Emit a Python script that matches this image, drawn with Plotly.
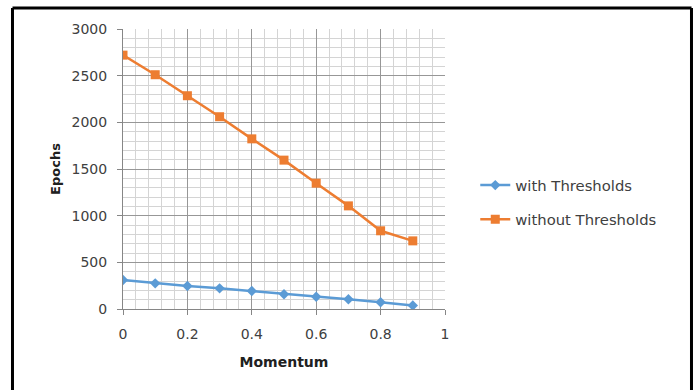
import plotly.graph_objects as go

momentum = [0, 0.1, 0.2, 0.3, 0.4, 0.5, 0.6, 0.7, 0.8, 0.9]
with_thresholds = [310, 275, 247, 221, 193, 158, 132, 104, 72, 37]
without_thresholds = [2720, 2510, 2285, 2060, 1823, 1595, 1348, 1105, 838, 730]

FONT = "DejaVu Sans"
TICK_COLOR = "#404040"

fig = go.Figure()
fig.add_trace(go.Scatter(
    x=momentum, y=with_thresholds, name="with Thresholds",
    mode="lines+markers", legendgroup="a",
    line=dict(color="#5B9BD5", width=2.5),
    marker=dict(symbol="diamond", size=8, color="#5B9BD5"),
))
fig.add_trace(go.Scatter(
    x=momentum, y=without_thresholds, name="without Thresholds",
    mode="lines+markers", legendgroup="b",
    line=dict(color="#ED7D31", width=2.5),
    marker=dict(symbol="square", size=9, color="#ED7D31"),
))

fig.update_layout(
    width=694, height=390,
    margin=dict(l=123, r=249, t=29, b=81),
    paper_bgcolor="white", plot_bgcolor="white",
    font=dict(family=FONT, size=14, color=TICK_COLOR),
    showlegend=True,
    legend=dict(
        x=1.094, y=0.50, xanchor="left", yanchor="top",
        font=dict(family=FONT, size=14.8, color="#404040"),
        traceorder="grouped", tracegroupgap=12,
        bgcolor="rgba(0,0,0,0)",
    ),
)

fig.update_xaxes(
    range=[0, 1], tick0=0, dtick=0.2,
    showgrid=True, gridcolor="#979797", gridwidth=1,
    minor=dict(dtick=0.04, showgrid=True, gridcolor="#d4d4d4", gridwidth=1),
    showline=True, linecolor="#868686", linewidth=1,
    ticks="outside", ticklen=5, tickcolor="#868686",
    ticklabelstandoff=7,
    zeroline=False,
    tickfont=dict(family=FONT, size=14, color=TICK_COLOR),
    title=dict(text="<b>Momentum</b>", font=dict(family=FONT, size=14, color="#202020"), standoff=16),
)
fig.update_yaxes(
    range=[0, 3000], tick0=0, dtick=500,
    showgrid=True, gridcolor="#979797", gridwidth=1,
    minor=dict(dtick=100, showgrid=True, gridcolor="#d4d4d4", gridwidth=1),
    showline=True, linecolor="#868686", linewidth=1,
    ticks="outside", ticklen=5, tickcolor="#868686",
    ticklabelstandoff=7,
    zeroline=False,
    tickfont=dict(family=FONT, size=14, color=TICK_COLOR),
    title=dict(text="<b>Epochs</b>", font=dict(family=FONT, size=13, color="#202020"), standoff=8),
)

# outer chart frame (left, top, right edges; bottom lies outside the picture)
for x0, y0, x1, y1 in [(-0.3432, 1.075, -0.3432, -0.35),
                       (-0.3432, 1.075, 1.7655, 1.075),
                       (1.7655, 1.075, 1.7655, -0.35)]:
    fig.add_shape(type="line", xref="paper", yref="paper",
                  x0=x0, y0=y0, x1=x1, y1=y1,
                  line=dict(color="black", width=3), layer="above")

fig.write_html("out.html")
